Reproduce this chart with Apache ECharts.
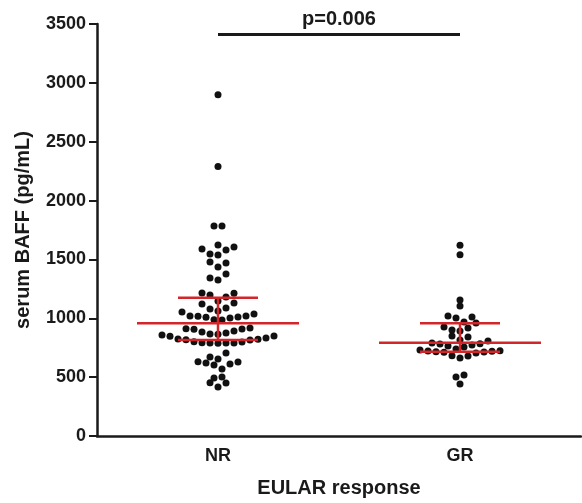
<!DOCTYPE html>
<html><head><meta charset="utf-8">
<script src="https://cdn.jsdelivr.net/npm/echarts@6/dist/echarts.min.js"></script>
<style>html,body{margin:0;padding:0;background:#fff}#c{width:582px;height:503px}</style>
</head><body><div id="c"></div>
<script>
// ---- data ----
const categories = ['NR', 'GR'];
const nrValues = [2900, 2290, 1785, 1783, 1606, 1580, 1623, 1589, 1538, 1546, 1470, 1478, 1436, 1376, 1342, 1325,
  1198, 1215, 1213, 1181, 1130, 1147, 1121, 1087, 1079, 1062, 1036, 1019, 1002, 985, 1011, 987, 1009, 1020, 1018, 1053,
  917, 909, 892, 866, 875, 864, 883, 911, 907, 850, 833, 816, 799, 790, 792, 788, 791, 789, 801, 818, 824, 822, 848, 858,
  705, 654, 671, 620, 603, 569, 612, 629, 631, 501, 493, 450, 416, 452];
const grValues = [1620, 1540, 1155, 1104, 1019, 1002, 1011, 968, 960, 926, 917, 892, 900, 850, 841, 816, 790, 773,
  756, 765, 782, 784, 807, 739, 722, 714, 720, 712, 724, 705, 716, 731, 680, 663, 682, 518, 501, 442];
const q1 = [816, 716];
const medians = [957, 793];
const q3 = [1175, 957];
const pLabel = 'p=0.006';
const bracketValue = 3410;
const yAxisName = 'serum BAFF (pg/mL)';
const xAxisName = 'EULAR response';

// ---- chart ----
const FONT = '"Liberation Sans", Arial, Helvetica, sans-serif';
const ink = '#1a1a1a';
const red = '#d3262a';
const chart = echarts.init(document.getElementById('c'));
chart.setOption({
  animation: false,
  grid: { left: 97, right: 1, top: 24, bottom: 67 },
  xAxis: {
    type: 'category', data: categories, boundaryGap: true,
    axisLine: { lineStyle: { color: ink, width: 2.5 } },
    axisTick: { alignWithLabel: true, length: 7, lineStyle: { color: ink, width: 2 } },
    axisLabel: { color: ink, fontFamily: FONT, fontWeight: 'bold', fontSize: 18, margin: 11 },
    name: xAxisName, nameLocation: 'middle', nameGap: 42,
    nameTextStyle: { color: ink, fontFamily: FONT, fontWeight: 'bold', fontSize: 20 }
  },
  yAxis: {
    type: 'value', min: 0, max: 3500, interval: 500,
    axisLine: { show: true, lineStyle: { color: ink, width: 2.5 } },
    axisTick: { show: true, length: 8, lineStyle: { color: ink, width: 2 } },
    axisLabel: { color: ink, fontFamily: FONT, fontWeight: 'bold', fontSize: 18, margin: 11,
      formatter: v => String(v) },
    splitLine: { show: false },
    name: yAxisName, nameLocation: 'middle', nameGap: 64,
    nameTextStyle: { color: ink, fontFamily: FONT, fontWeight: 'bold', fontSize: 20 }
  }
});

// Prism-style row layout in pixel space, derived from the values and the y scale
const pxPerUnit = (chart.convertToPixel({ yAxisIndex: 0 }, 0) - chart.convertToPixel({ yAxisIndex: 0 }, 1000)) / 1000;
function swarm(values, catIdx) {
  const D = 8, maxSpanPx = 8.5, maxGapPx = 4.7;
  const sorted = values.slice().sort((a, b) => a - b);
  const rows = [];
  let cur = null;
  sorted.forEach(v => {
    if (!cur || (v - cur[0]) * pxPerUnit > maxSpanPx || (v - cur[cur.length - 1]) * pxPerUnit > maxGapPx) {
      cur = [v]; rows.push(cur);
    } else cur.push(v);
  });
  const out = [];
  rows.forEach((row, ri) => {
    const n = row.length;
    const slots = [];
    if (n % 2) { slots.push(0); for (let k = 1; slots.length < n; k++) { slots.push(k * D); if (slots.length < n) slots.push(-k * D); } }
    else { for (let k = 0; slots.length < n; k++) { slots.push((k + 0.5) * D); if (slots.length < n) slots.push(-(k + 0.5) * D); } }
    const sgn = ri % 2 ? -1 : 1;
    row.forEach((v, i) => out.push({ value: [catIdx, v], symbolOffset: [sgn * slots[i], 0] }));
  });
  return out;
}

const statsData = categories.map((c, i) => [i, q1[i], medians[i], q3[i]]);

chart.setOption({
  series: [
    {
      type: 'scatter', symbol: 'circle', symbolSize: 7,
      itemStyle: { color: '#111', opacity: 1 },
      data: swarm(nrValues, 0).concat(swarm(grValues, 1)), z: 2
    },
    {
      type: 'custom', z: 5, data: statsData,
      renderItem: (params, api) => {
        const idx = api.value(0);
        const pl = api.coord([idx, api.value(1)]);
        const pm = api.coord([idx, api.value(2)]);
        const pu = api.coord([idx, api.value(3)]);
        const st = { stroke: red, lineWidth: 2.5 };
        return {
          type: 'group', children: [
            { type: 'line', shape: { x1: pm[0] - 81, y1: pm[1], x2: pm[0] + 81, y2: pm[1] }, style: st },
            { type: 'line', shape: { x1: pu[0] - 40, y1: pu[1], x2: pu[0] + 40, y2: pu[1] }, style: st },
            { type: 'line', shape: { x1: pl[0] - 40, y1: pl[1], x2: pl[0] + 40, y2: pl[1] }, style: st },
            { type: 'line', shape: { x1: pl[0], y1: pl[1], x2: pu[0], y2: pu[1] }, style: st }
          ]
        };
      }
    },
    {
      type: 'custom', z: 6, data: [[0, 1, bracketValue]],
      renderItem: (params, api) => {
        const a = api.coord([api.value(0), api.value(2)]);
        const b = api.coord([api.value(1), api.value(2)]);
        return {
          type: 'group', children: [
            { type: 'line', shape: { x1: a[0], y1: a[1], x2: b[0], y2: b[1] }, style: { stroke: ink, lineWidth: 3 } },
            { type: 'text', x: (a[0] + b[0]) / 2, y: a[1] - 5,
              style: { text: pLabel, fill: ink, font: 'bold 20px ' + FONT, textAlign: 'center', textVerticalAlign: 'bottom' } }
          ]
        };
      }
    }
  ]
});
</script></body></html>
